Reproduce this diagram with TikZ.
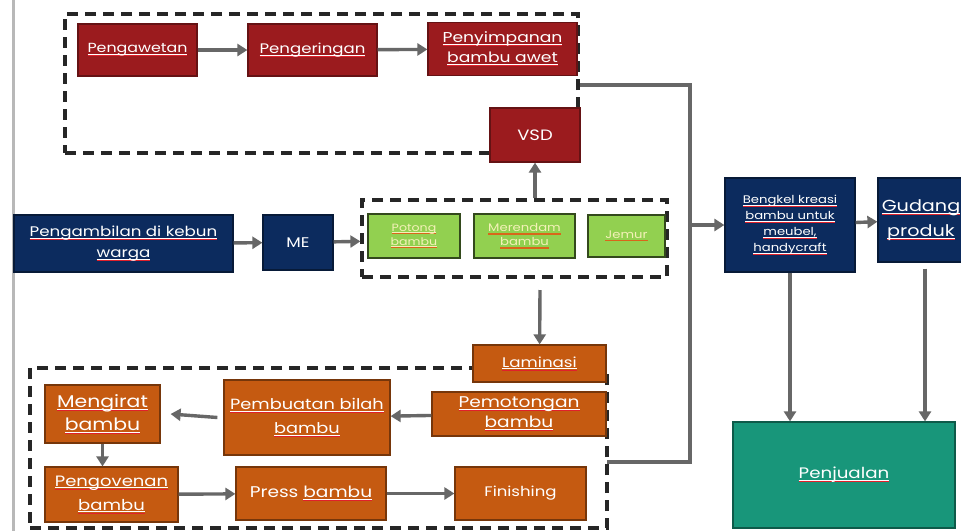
\documentclass[tikz,border=0pt]{standalone}
\usepackage{fontspec}
\setmainfont[FakeStretch=1.2]{Poppins}
\usetikzlibrary{arrows.meta,positioning}

\definecolor{boxred}{HTML}{9B1B1E}
\definecolor{boxnavy}{HTML}{0C2B5E}
\definecolor{boxgreen}{HTML}{92D050}
\definecolor{boxorange}{HTML}{C55A11}
\definecolor{boxteal}{HTML}{18967A}
\definecolor{greentext}{HTML}{F4F1B8}
\definecolor{flowgray}{HTML}{676767}
\definecolor{wavered}{HTML}{E0202A}
\definecolor{waveorange}{HTML}{D9661A}

\newcommand\spw[1]{\leavevmode\setbox0\hbox{#1}\rlap{\rule[-1.8pt]{\wd0}{0.5pt}}\rlap{\color{wavered}\rule[-3.4pt]{\wd0}{0.8pt}}\box0}
\newcommand\spg[1]{\leavevmode\setbox0\hbox{#1}\rlap{\rule[-1.6pt]{\wd0}{0.3pt}}\rlap{\color{waveorange}\rule[-3pt]{\wd0}{1.1pt}}\box0}
\newcommand\fs[2]{\fontsize{#1}{#2}\selectfont}

\tikzset{
  block/.style={rectangle, line width=1.2pt, align=center, text=white, inner sep=1pt,
    font=\fs{14}{19}},
  redblock/.style={block, fill=boxred, draw=boxred!65!black},
  navyblock/.style={block, fill=boxnavy, draw=boxnavy!60!black},
  greenblock/.style={block, fill=boxgreen, draw=boxgreen!35!black, text=greentext,
    font=\fs{11}{14}},
  orangeblock/.style={block, fill=boxorange, draw=boxorange!60!black},
  tealblock/.style={block, fill=boxteal, draw=boxteal!60!black},
  dashgroup/.style={rectangle, draw=black!85, dash pattern=on 11pt off 7pt, line width=3.2pt},
  flow/.style={draw=flowgray, line width=3.4pt, -{Triangle[length=10pt,width=12pt]}},
  wire/.style={draw=flowgray, line width=3.4pt}
}

\begin{document}
\begin{tikzpicture}[x=1pt,y=-1pt]
  \fill[white] (0,0) rectangle (961,531);
  \useasboundingbox (0,0) rectangle (961,531);
  \draw[line width=3pt, black!28] (13,0) -- (13,531);

  \node[dashgroup, minimum width=513pt, minimum height=139pt] (preserve) at (321.5,83.5) {};
  \node[dashgroup, minimum width=305pt, minimum height=77pt] (soak) at (514.5,238.5) {};
  \node[dashgroup, minimum width=577pt, minimum height=160pt] (laminate) at (318.5,448) {};

  \node[redblock, minimum width=119pt, minimum height=52pt, font=\fs{13.2}{18}] (pengawetan) at (137.5,50) {\spw{Pengawetan}};
  \node[redblock, minimum width=129pt, minimum height=52pt, font=\fs{13.8}{18}] (pengeringan) at (312.5,50) {\spw{Pengeringan}};
  \node[redblock, minimum width=149pt, minimum height=53pt, font=\fs{14.3}{20}] (penyimpanan) at (502.5,49)
       {\spw{Penyimpanan}\\\spw{bambu awet}};
  \node[redblock, minimum width=90pt, minimum height=54pt, font=\fs{15}{18}] (vsd) at (535,135) {VSD};

  \node[navyblock, minimum width=219pt, minimum height=57pt, font=\fs{13.9}{21}] (pengambilan) at (123.5,243.5)
       {\spw{Pengambilan di kebun}\\\spw{warga}};
  \node[navyblock, minimum width=70pt, minimum height=55pt] (me) at (298,242.5) {ME};

  \node[greenblock, minimum width=92pt, minimum height=44pt, font=\fs{10.5}{14}] (potong) at (414,236) {\spg{Potong}\\\spg{bambu}};
  \node[greenblock, minimum width=101pt, minimum height=44pt] (merendam) at (524.5,236) {\spg{Merendam}\\\spg{bambu}};
  \node[greenblock, minimum width=77pt, minimum height=42pt] (jemur) at (626.5,236) {\spg{Jemur}};

  \node[navyblock, minimum width=130pt, minimum height=94pt, font=\fs{11}{16}] (bengkel) at (790,225)
       {\spw{Bengkel kreasi}\\\spw{bambu untuk}\\\spw{meubel,}\\\spw{handycraft}};
  \node[navyblock, minimum width=86pt, minimum height=84pt, font=\fs{16}{25}] (gudang) at (921,220)
       {\spw{Gudang}\\\spw{produk}};
  \node[tealblock, minimum width=222pt, minimum height=106pt, font=\fs{15.2}{18}] (penjualan) at (844,475)
       {\spw{Penjualan}};

  \node[orangeblock, minimum width=133pt, minimum height=37pt, font=\fs{13.9}{18}] (laminasi) at (539.5,363.5) {\spw{Laminasi}};
  \node[orangeblock, minimum width=174pt, minimum height=44pt, font=\fs{15.5}{20}] (pemotongan) at (519,414) {\spw{Pemotongan}\\\spw{bambu}};
  \node[orangeblock, minimum width=166pt, minimum height=75pt, font=\fs{14.8}{24}] (pembuatan) at (307,417.5)
       {\spw{Pembuatan bilah}\\\spw{bambu}};
  \node[orangeblock, minimum width=115pt, minimum height=58pt, font=\fs{17}{23}] (mengirat) at (102.5,414) {\spw{Mengirat}\\\spw{bambu}};
  \node[orangeblock, minimum width=133pt, minimum height=55pt, font=\fs{15}{24}] (pengovenan) at (111.5,494.5) {\spw{Pengovenan}\\\spw{bambu}};
  \node[orangeblock, minimum width=150pt, minimum height=53pt, font=\fs{15.5}{19}] (press) at (311,493.5) {Press \spw{bambu}};
  \node[orangeblock, minimum width=131pt, minimum height=53pt, font=\fs{13.8}{18}] (finishing) at (520.5,493.5) {Finishing};

  \coordinate (j1) at (580,85);
  \coordinate (j2) at (690,85);
  \coordinate (j3) at (690,462);
  \coordinate (j4) at (607,462);
  \coordinate (jb) at (690,225);
  \coordinate (s1) at (540,290);

  \draw[flow] (pengawetan) -- (pengeringan);
  \draw[flow] (pengeringan) -- (penyimpanan);
  \draw[flow] (soak.north -| vsd) -- (vsd);
  \draw[flow] (pengambilan) -- (me);
  \draw[flow] (me) -- (soak);
  \draw[flow] (s1) -- (laminasi);
  \draw[flow] (pemotongan) -- (pembuatan);
  \draw[flow] ([xshift=-6pt]pembuatan.west) -- ([xshift=10pt]mengirat.east);
  \draw[flow] (mengirat) -- (pengovenan.north -| mengirat);
  \draw[flow] (pengovenan) -- (press);
  \draw[flow] (press) -- (finishing);
  \draw[wire] (j1) -- (j2) -- (j3) -- (j4);
  \draw[flow] (jb) -- (bengkel);
  \draw[flow] (bengkel) -- (gudang);
  \draw[flow] (bengkel.south) -- (penjualan.north -| bengkel);
  \draw[flow] ([yshift=-6pt]gudang.south -| 925,0) -- (penjualan.north -| 925,0);
\end{tikzpicture}
\end{document}
